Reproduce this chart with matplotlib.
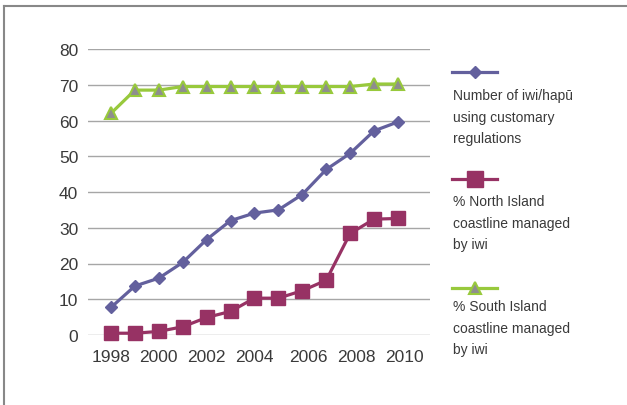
import matplotlib
matplotlib.use("Agg")
import matplotlib.pyplot as plt
import matplotlib.transforms as mtransforms
from matplotlib.lines import Line2D

years = [1998, 1999, 2000, 2001, 2002, 2003, 2004, 2005, 2006, 2007, 2008, 2009, 2010]
iwi_count = [7.7, 13.7, 15.9, 20.3, 26.7, 32.0, 34.1, 35.0, 39.3, 46.3, 50.8, 57.1, 59.6]
north_pct = [0.5, 0.5, 1.0, 2.3, 4.9, 6.6, 10.3, 10.3, 12.4, 15.3, 28.4, 32.4, 32.6]
south_pct = [62.0, 68.5, 68.5, 69.5, 69.5, 69.5, 69.5, 69.5, 69.5, 69.5, 69.5, 70.2, 70.2]
xtick_years = [1998, 2000, 2002, 2004, 2006, 2008, 2010]
yticks = [0, 10, 20, 30, 40, 50, 60, 70, 80]
labels = ["Number of iwi/hapū\nusing customary\nregulations",
          "% North Island\ncoastline managed\nby iwi",
          "% South Island\ncoastline managed\nby iwi"]

plt.rcParams['font.family'] = ['Liberation Sans Narrow', 'Liberation Sans', 'DejaVu Sans']

W, H = 627, 406
fig = plt.figure(figsize=(W / 100, H / 100), dpi=100)
ax = fig.add_axes([88 / W, (H - 336) / H, (430 - 88) / W, (336 - 50) / H])

c_blue = '#63609d'
c_red = '#973264'
c_green = '#98c93c'
c_text = '#3a3a3a'

ax.plot(years, iwi_count, color=c_blue, lw=2.3, marker='D', ms=6.5,
        mfc=c_blue, mec=c_blue, clip_on=False, zorder=3)
ax.plot(years, north_pct, color=c_red, lw=2.3, marker='s', ms=10,
        mfc=c_red, mec=c_red, clip_on=False, zorder=4)
ax.plot(years, south_pct, color=c_green, lw=2.3, marker='^', ms=8.5,
        mfc='#8e8e8e', mec=c_green, mew=1.5, clip_on=False, zorder=3)

ax.set_xlim(1997.04, 2011.34)
ax.set_ylim(0, 80)
ax.set_yticks(yticks)
ax.set_xticks(xtick_years)
ax.set_xticklabels([str(y) for y in xtick_years])
ax.grid(axis='y', color='#a6a6a6', lw=1.0)
ax.set_axisbelow(True)
for s in ax.spines.values():
    s.set_visible(False)
ax.tick_params(axis='both', length=0, labelsize=12.5, colors=c_text)
ax.tick_params(axis='y', pad=7)
ax.tick_params(axis='x', pad=10)

# later year labels sit slightly to the right in the reference
for lbl in ax.get_xticklabels()[4:]:
    lbl.set_transform(lbl.get_transform() +
                      mtransforms.ScaledTranslation(6 / 100, 0, fig.dpi_scale_trans))

# legend drawn manually on the right
def px(x, y):
    return (x / W, (H - y) / H)

entries = [(c_blue, 'D', 6.5, c_blue, c_blue, 73, 96),
           (c_red, 's', 11, c_red, c_red, 180, 202),
           (c_green, '^', 9, '#8e8e8e', c_green, 289, 307)]
for (col, mk, ms, mfc, mec, ly, ty), lab in zip(entries, labels):
    x0, y0 = px(452, ly)
    x1, _ = px(497, ly)
    fig.add_artist(Line2D([x0, x1], [y0, y0], color=col, lw=2.3, transform=fig.transFigure))
    xm, _ = px(475, ly)
    fig.add_artist(Line2D([xm], [y0], marker=mk, ms=ms, mfc=mfc, mec=mec,
                          mew=1.5 if mk == '^' else 1, transform=fig.transFigure))
    tx, tyy = px(453, ty - 7)
    fig.text(tx, tyy, lab, ha='left', va='top', fontsize=10, color=c_text,
             linespacing=1.7)

# frame
fig.add_artist(Line2D([4 / W, 1], [(H - 6.5) / H] * 2, color='#888888', lw=1.5,
                      transform=fig.transFigure))
fig.add_artist(Line2D([4 / W] * 2, [0, (H - 6.5) / H], color='#888888', lw=1.5,
                      transform=fig.transFigure))

fig.savefig('out.png', dpi=100)
